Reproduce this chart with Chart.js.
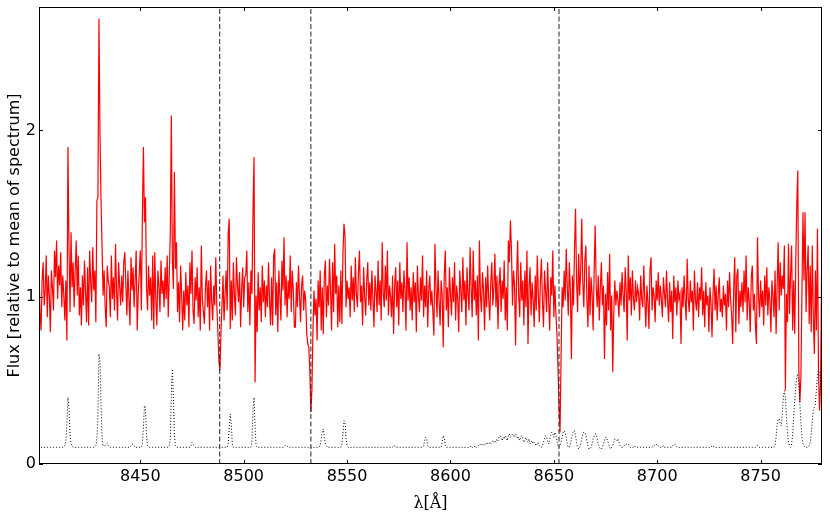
<!DOCTYPE html>
<html>
<head>
<meta charset="utf-8">
<script src="https://cdn.jsdelivr.net/npm/chart.js@4.4.1/dist/chart.umd.min.js"></script>
<style>
  html, body { margin: 0; padding: 0; background: #fff; }
  canvas { display: block; }
</style>
</head>
<body>
<canvas id="spec" width="830" height="519"></canvas>
<script>
// wavelength grid of the spectrum: 8401 A, every 0.5 A
const waveStart = 8401;
const waveStep = 0.5;

// object spectrum, relative to its mean (one row = 10 A)
const flux = [
  1.16, 0.91, 0.80, 1.10, 1.21, 0.95, 1.04, 1.25, 0.88, 1.13, 1.01, 0.79, 1.16, 1.06, 0.92, 1.28, 1.12, 1.34, 0.99, 1.19, // 8401
  1.07, 1.27, 0.94, 1.13, 1.01, 0.86, 1.10, 0.74, 1.90, 1.31, 0.91, 1.39, 1.06, 1.21, 0.94, 1.16, 1.34, 1.01, 1.25, 0.89,
  1.06, 0.83, 1.13, 0.95, 1.22, 1.03, 0.85, 1.18, 0.83, 1.28, 1.09, 0.97, 1.30, 1.04, 1.16, 0.85, 1.58, 1.60, 2.67, 1.97,
  1.58, 1.30, 1.01, 1.16, 0.94, 0.82, 1.19, 1.10, 1.06, 0.88, 1.25, 0.99, 1.12, 0.92, 1.32, 1.04, 0.86, 1.21, 1.07, 0.95,
  1.13, 0.97, 1.21, 1.27, 1.07, 0.89, 1.16, 0.99, 0.83, 1.24, 1.04, 1.18, 0.94, 1.10, 1.28, 0.80, 1.02, 1.15, 1.28, 0.92,
  1.48, 1.90, 1.45, 1.60, 1.06, 0.92, 1.19, 1.01, 1.12, 0.86, 1.25, 0.81, 1.27, 0.98, 0.83, 1.16, 1.07, 0.91, 1.22, 1.02, // 8451
  1.10, 0.94, 1.18, 0.99, 1.25, 0.88, 1.13, 1.38, 2.09, 1.22, 1.05, 1.75, 1.17, 1.33, 0.91, 1.09, 0.85, 1.19, 1.01, 0.80,
  1.04, 0.86, 1.15, 0.95, 1.07, 0.82, 1.21, 1.02, 1.28, 0.92, 0.84, 1.12, 0.98, 1.18, 0.88, 1.06, 0.80, 1.31, 0.99, 0.91,
  0.84, 1.06, 1.16, 0.94, 1.10, 0.80, 1.19, 0.98, 0.86, 1.07, 0.95, 1.24, 0.95, 0.80, 0.62, 0.56, 0.78, 0.95, 1.13, 0.86,
  1.02, 1.16, 0.92, 1.38, 1.47, 0.81, 1.10, 0.86, 1.21, 1.01, 0.89, 1.24, 1.07, 0.97, 1.15, 0.82, 1.04, 1.18, 0.94, 1.12,
  1.13, 1.28, 0.91, 1.09, 0.83, 1.16, 1.02, 1.52, 1.84, 0.49, 1.01, 0.79, 1.15, 0.92, 1.06, 0.85, 1.19, 0.97, 1.10, 0.88, // 8501
  1.07, 0.94, 1.21, 0.98, 0.83, 1.12, 0.83, 1.25, 1.29, 0.89, 1.09, 0.79, 1.16, 1.01, 0.86, 1.22, 1.04, 1.36, 0.95, 1.13,
  0.88, 1.10, 0.99, 1.25, 0.91, 1.16, 1.04, 0.82, 0.82, 1.09, 0.94, 1.19, 1.01, 0.85, 1.07, 1.13, 0.92, 1.04, 0.98, 0.78,
  0.72, 0.70, 0.55, 0.31, 0.45, 0.80, 1.04, 0.89, 0.99, 0.74, 1.10, 0.94, 1.16, 0.80, 1.06, 0.78, 1.13, 1.22, 0.88, 1.07,
  0.95, 1.23, 1.04, 0.80, 1.21, 0.91, 1.32, 1.02, 1.13, 0.82, 1.07, 0.85, 1.16, 0.84, 1.26, 1.44, 1.37, 0.94, 1.10, 0.99,
  1.06, 0.88, 1.19, 0.98, 1.12, 0.91, 1.24, 1.02, 0.94, 1.15, 1.28, 0.97, 1.07, 0.83, 1.18, 1.01, 0.89, 1.10, 1.21, 0.95, // 8551
  1.09, 0.92, 1.16, 0.99, 0.82, 1.13, 1.04, 0.91, 1.22, 0.95, 1.10, 0.86, 1.33, 1.02, 0.94, 1.19, 0.98, 1.28, 0.89, 1.07,
  1.01, 0.88, 1.13, 0.78, 1.06, 1.18, 0.94, 1.10, 0.83, 1.21, 0.99, 1.09, 0.91, 1.16, 1.04, 0.80, 1.33, 0.98, 1.12, 0.92,
  1.06, 0.86, 1.15, 0.97, 1.09, 0.79, 1.19, 1.01, 0.91, 1.12, 0.98, 1.25, 0.88, 1.07, 0.94, 1.16, 0.82, 1.04, 1.13, 0.95,
  1.04, 0.91, 0.77, 1.32, 1.06, 0.88, 1.16, 0.98, 0.83, 1.10, 1.01, 0.70, 1.13, 1.28, 0.92, 1.06, 0.82, 1.18, 1.02, 0.89,
  1.12, 0.97, 1.21, 0.86, 1.07, 0.99, 0.79, 1.16, 1.04, 0.91, 1.24, 0.98, 1.10, 0.83, 1.18, 1.02, 0.92, 1.30, 1.06, 0.88, // 8601
  1.28, 0.98, 1.10, 0.89, 1.13, 0.74, 1.34, 1.01, 0.91, 1.15, 1.04, 0.80, 1.12, 0.94, 1.19, 0.99, 0.86, 1.09, 1.21, 0.95,
  1.06, 1.26, 0.94, 1.13, 0.81, 1.07, 1.18, 0.91, 1.10, 0.99, 1.22, 0.86, 1.06, 0.80, 1.34, 1.21, 1.46, 1.29, 0.95, 1.16,
  1.07, 0.71, 1.13, 1.34, 1.01, 0.88, 1.21, 0.98, 1.10, 0.83, 1.16, 0.94, 1.28, 0.72, 1.06, 1.18, 0.89, 1.09, 0.99, 0.82,
  1.13, 0.92, 1.25, 1.02, 0.85, 1.10, 1.23, 0.97, 0.82, 1.16, 1.04, 0.91, 1.21, 0.98, 0.80, 1.12, 1.01, 1.28, 0.88, 1.07,
  0.90, 0.78, 0.58, 0.35, 0.19, 0.64, 1.06, 0.94, 1.16, 0.98, 1.29, 1.06, 0.89, 1.21, 1.04, 0.63, 1.13, 0.95, 1.28, 1.53, // 8651
  1.10, 0.91, 1.26, 1.01, 1.16, 1.47, 1.09, 0.94, 1.22, 1.31, 0.98, 0.82, 1.19, 0.89, 1.12, 1.02, 0.80, 1.16, 1.43, 1.06,
  0.94, 1.13, 0.86, 1.06, 1.21, 0.95, 1.07, 0.63, 1.02, 0.83, 1.15, 0.92, 1.26, 0.80, 1.01, 0.55, 0.91, 1.10, 0.95, 1.04,
  0.98, 0.88, 1.09, 0.95, 1.15, 1.01, 0.91, 1.18, 1.04, 0.74, 1.25, 0.98, 1.12, 0.89, 1.16, 0.99, 0.92, 1.10, 0.97, 1.06,
  1.02, 0.86, 1.13, 0.99, 0.94, 1.19, 0.98, 0.82, 1.07, 0.97, 0.81, 1.16, 1.24, 0.92, 1.06, 1.01, 0.85, 1.10, 0.98, 1.15,
  0.95, 1.07, 0.99, 0.88, 1.12, 1.02, 0.94, 1.16, 0.98, 0.85, 1.09, 0.91, 1.04, 0.75, 1.13, 0.97, 1.06, 0.89, 1.10, 0.99, // 8701
  1.02, 0.72, 1.06, 0.94, 1.13, 0.98, 0.86, 1.23, 0.99, 0.91, 1.10, 0.97, 1.04, 0.80, 1.16, 0.98, 0.92, 1.09, 0.88, 1.06,
  0.98, 1.18, 0.89, 1.04, 0.82, 1.09, 0.95, 1.01, 0.79, 1.06, 0.97, 0.76, 1.02, 1.17, 0.92, 1.07, 0.86, 1.01, 1.12, 0.91,
  0.99, 0.88, 1.07, 0.95, 1.02, 0.80, 1.10, 0.94, 1.15, 0.98, 0.89, 0.72, 1.06, 1.24, 0.79, 1.13, 1.17, 0.84, 1.04, 0.94,
  1.09, 0.91, 1.16, 0.97, 1.25, 0.86, 1.06, 0.98, 0.79, 1.12, 1.19, 0.92, 1.02, 0.83, 0.72, 1.36, 1.01, 0.88, 1.10, 0.94,
  1.04, 0.83, 1.13, 0.95, 1.18, 0.89, 1.06, 0.98, 0.79, 1.10, 1.01, 0.88, 1.16, 0.78, 1.07, 1.33, 0.92, 1.21, 1.01, 1.13, // 8751
  1.05, 1.31, 0.44, 1.02, 0.85, 1.32, 0.90, 1.14, 1.31, 0.80, 1.10, 0.78, 1.20, 1.55, 1.76, 0.56, 0.37, 0.52, 1.02, 1.51,
  1.10, 1.51, 0.91, 1.16, 1.31, 0.84, 1.19, 0.79, 1.31, 0.88, 0.66, 1.16, 0.80, 1.41, 0.56, 0.32, 0.48, 1.15, 1.05, 1.00
];

// sky spectrum on the same grid (dotted)
const sky = [
  0.11, 0.11, 0.10, 0.10, 0.10, 0.10, 0.10, 0.10, 0.10, 0.10, 0.10, 0.10, 0.10, 0.10, 0.10, 0.10, 0.10, 0.10, 0.10, 0.10, // 8401
  0.10, 0.10, 0.10, 0.10, 0.10, 0.11, 0.14, 0.24, 0.40, 0.33, 0.18, 0.12, 0.11, 0.10, 0.10, 0.10, 0.10, 0.10, 0.10, 0.10,
  0.10, 0.10, 0.10, 0.10, 0.10, 0.10, 0.10, 0.10, 0.10, 0.10, 0.10, 0.10, 0.10, 0.10, 0.10, 0.11, 0.15, 0.30, 0.66, 0.62,
  0.36, 0.16, 0.11, 0.11, 0.11, 0.12, 0.125, 0.11, 0.10, 0.10, 0.10, 0.10, 0.10, 0.10, 0.10, 0.10, 0.10, 0.10, 0.10, 0.10,
  0.10, 0.10, 0.10, 0.10, 0.10, 0.10, 0.10, 0.10, 0.10, 0.11, 0.12, 0.12, 0.11, 0.10, 0.10, 0.10, 0.10, 0.10, 0.10, 0.10,
  0.12, 0.22, 0.35, 0.34, 0.18, 0.11, 0.10, 0.10, 0.10, 0.10, 0.10, 0.10, 0.10, 0.10, 0.10, 0.10, 0.10, 0.10, 0.10, 0.10, // 8451
  0.10, 0.10, 0.10, 0.10, 0.10, 0.10, 0.11, 0.15, 0.42, 0.57, 0.40, 0.16, 0.11, 0.10, 0.10, 0.10, 0.10, 0.10, 0.10, 0.10,
  0.10, 0.10, 0.10, 0.10, 0.10, 0.10, 0.10, 0.11, 0.13, 0.12, 0.11, 0.10, 0.10, 0.10, 0.10, 0.10, 0.10, 0.10, 0.10, 0.10,
  0.10, 0.10, 0.10, 0.10, 0.10, 0.10, 0.10, 0.10, 0.10, 0.10, 0.10, 0.10, 0.10, 0.10, 0.10, 0.10, 0.10, 0.10, 0.10, 0.10,
  0.10, 0.10, 0.10, 0.12, 0.22, 0.30, 0.24, 0.12, 0.10, 0.10, 0.10, 0.10, 0.10, 0.10, 0.10, 0.10, 0.10, 0.10, 0.10, 0.10,
  0.10, 0.10, 0.10, 0.10, 0.10, 0.10, 0.14, 0.33, 0.40, 0.22, 0.11, 0.10, 0.10, 0.10, 0.10, 0.10, 0.10, 0.10, 0.10, 0.10, // 8501
  0.10, 0.10, 0.10, 0.10, 0.10, 0.10, 0.10, 0.10, 0.10, 0.10, 0.10, 0.10, 0.10, 0.10, 0.10, 0.10, 0.10, 0.10, 0.11, 0.11,
  0.11, 0.10, 0.10, 0.10, 0.10, 0.10, 0.10, 0.10, 0.10, 0.10, 0.10, 0.10, 0.10, 0.10, 0.10, 0.10, 0.10, 0.10, 0.10, 0.10,
  0.10, 0.10, 0.10, 0.10, 0.10, 0.10, 0.10, 0.10, 0.10, 0.10, 0.10, 0.10, 0.11, 0.15, 0.20, 0.21, 0.16, 0.12, 0.11, 0.10,
  0.10, 0.10, 0.10, 0.10, 0.10, 0.10, 0.10, 0.10, 0.10, 0.10, 0.10, 0.10, 0.10, 0.12, 0.18, 0.26, 0.25, 0.15, 0.11, 0.10,
  0.10, 0.10, 0.10, 0.10, 0.10, 0.10, 0.10, 0.10, 0.10, 0.10, 0.10, 0.10, 0.10, 0.10, 0.10, 0.10, 0.10, 0.10, 0.10, 0.10, // 8551
  0.10, 0.10, 0.10, 0.10, 0.10, 0.10, 0.10, 0.10, 0.10, 0.10, 0.10, 0.10, 0.10, 0.10, 0.10, 0.10, 0.10, 0.10, 0.10, 0.10,
  0.10, 0.10, 0.10, 0.11, 0.11, 0.10, 0.10, 0.10, 0.10, 0.10, 0.10, 0.10, 0.10, 0.10, 0.10, 0.10, 0.10, 0.10, 0.10, 0.10,
  0.10, 0.10, 0.10, 0.10, 0.10, 0.10, 0.10, 0.10, 0.10, 0.10, 0.10, 0.10, 0.11, 0.14, 0.16, 0.15, 0.11, 0.10, 0.10, 0.10,
  0.10, 0.10, 0.10, 0.10, 0.10, 0.10, 0.10, 0.10, 0.10, 0.10, 0.13, 0.17, 0.16, 0.11, 0.10, 0.10, 0.10, 0.10, 0.10, 0.10,
  0.10, 0.10, 0.10, 0.10, 0.10, 0.10, 0.10, 0.10, 0.10, 0.10, 0.10, 0.10, 0.10, 0.10, 0.10, 0.10, 0.10, 0.10, 0.11, 0.10, // 8601
  0.10, 0.10, 0.11, 0.10, 0.11, 0.11, 0.11, 0.12, 0.11, 0.12, 0.12, 0.11, 0.12, 0.13, 0.12, 0.12, 0.13, 0.12, 0.13, 0.14,
  0.13, 0.14, 0.13, 0.15, 0.14, 0.16, 0.17, 0.15, 0.14, 0.16, 0.15, 0.17, 0.16, 0.14, 0.17, 0.18, 0.16, 0.17, 0.18, 0.17,
  0.16, 0.18, 0.17, 0.15, 0.16, 0.14, 0.16, 0.17, 0.15, 0.13, 0.14, 0.16, 0.14, 0.13, 0.15, 0.12, 0.13, 0.14, 0.12, 0.13,
  0.12, 0.11, 0.12, 0.13, 0.11, 0.10, 0.10, 0.11, 0.13, 0.15, 0.17, 0.16, 0.14, 0.12, 0.14, 0.17, 0.19, 0.18, 0.16, 0.19,
  0.17, 0.14, 0.11, 0.10, 0.11, 0.13, 0.16, 0.19, 0.20, 0.19, 0.16, 0.12, 0.10, 0.10, 0.12, 0.15, 0.18, 0.20, 0.20, 0.17, // 8651
  0.13, 0.10, 0.09, 0.10, 0.12, 0.15, 0.18, 0.19, 0.19, 0.17, 0.14, 0.11, 0.09, 0.09, 0.10, 0.12, 0.15, 0.17, 0.18, 0.18,
  0.15, 0.12, 0.10, 0.09, 0.09, 0.10, 0.12, 0.14, 0.16, 0.16, 0.14, 0.12, 0.10, 0.09, 0.10, 0.11, 0.13, 0.15, 0.15, 0.14,
  0.15, 0.13, 0.11, 0.10, 0.10, 0.10, 0.11, 0.11, 0.12, 0.12, 0.12, 0.11, 0.10, 0.10, 0.10, 0.10, 0.11, 0.10, 0.10, 0.10,
  0.10, 0.10, 0.10, 0.10, 0.10, 0.10, 0.10, 0.10, 0.10, 0.10, 0.10, 0.10, 0.10, 0.10, 0.11, 0.11, 0.12, 0.12, 0.11, 0.11,
  0.10, 0.10, 0.10, 0.10, 0.11, 0.10, 0.10, 0.10, 0.10, 0.10, 0.10, 0.10, 0.10, 0.11, 0.12, 0.12, 0.11, 0.10, 0.10, 0.10, // 8701
  0.10, 0.10, 0.10, 0.10, 0.10, 0.10, 0.10, 0.10, 0.10, 0.10, 0.10, 0.10, 0.10, 0.10, 0.10, 0.10, 0.10, 0.10, 0.10, 0.10,
  0.10, 0.10, 0.10, 0.10, 0.10, 0.10, 0.10, 0.10, 0.10, 0.10, 0.10, 0.11, 0.11, 0.10, 0.10, 0.10, 0.10, 0.10, 0.10, 0.10,
  0.10, 0.10, 0.10, 0.10, 0.10, 0.10, 0.10, 0.10, 0.10, 0.10, 0.10, 0.10, 0.10, 0.10, 0.10, 0.10, 0.10, 0.10, 0.10, 0.10,
  0.10, 0.10, 0.10, 0.10, 0.10, 0.10, 0.10, 0.10, 0.10, 0.10, 0.10, 0.10, 0.10, 0.10, 0.11, 0.11, 0.10, 0.10, 0.10, 0.10,
  0.10, 0.10, 0.10, 0.10, 0.10, 0.10, 0.10, 0.10, 0.10, 0.10, 0.10, 0.10, 0.11, 0.16, 0.24, 0.27, 0.27, 0.24, 0.23, 0.30, // 8751
  0.40, 0.44, 0.40, 0.28, 0.19, 0.13, 0.11, 0.10, 0.12, 0.18, 0.28, 0.38, 0.46, 0.52, 0.54, 0.48, 0.36, 0.25, 0.16, 0.12,
  0.11, 0.10, 0.10, 0.10, 0.10, 0.11, 0.13, 0.18, 0.26, 0.32, 0.34, 0.36, 0.45, 0.53, 0.56, 0.55, 0.50, 0.45, 0.40, 0.35
];

// Ca II triplet positions (dashed lines)
const caLines = [8488.4, 8532.5, 8652.5];

const xTicks = [8450, 8500, 8550, 8600, 8650, 8700, 8750];
const yTicks = [0, 1, 2];
const xRange = [8401, 8779.7];
const yRange = [0, 2.74];

const wave = flux.map((_, i) => waveStart + i * waveStep);
const toPoints = vals => vals.map((v, i) => ({ x: wave[i], y: v }));

// matplotlib style box with inward ticks on all four sides
const frameAndTicks = {
    id: 'frameAndTicks',
    afterDatasetsDraw(chart) {
        const { ctx, chartArea: a, scales } = chart;
        ctx.save();
        ctx.strokeStyle = '#000';
        ctx.lineWidth = 1;
        ctx.beginPath();
        xTicks.forEach(v => {
            const px = Math.round(scales.x.getPixelForValue(v)) + 0.5;
            ctx.moveTo(px, a.bottom); ctx.lineTo(px, a.bottom - 4);
            ctx.moveTo(px, a.top); ctx.lineTo(px, a.top + 4);
        });
        yTicks.forEach(v => {
            const py = Math.round(scales.y.getPixelForValue(v)) + 0.5;
            ctx.moveTo(a.left, py); ctx.lineTo(a.left + 4, py);
            ctx.moveTo(a.right, py); ctx.lineTo(a.right - 4, py);
        });
        ctx.stroke();
        ctx.strokeRect(a.left + 0.5, a.top + 0.5, a.width - 1, a.height - 1);
        ctx.restore();
    }
};

const vlineSets = caLines.map(l => ({
    data: [{ x: l, y: yRange[0] }, { x: l, y: yRange[1] }],
    borderColor: '#222',
    borderWidth: 1,
    borderDash: [5, 2.5],
    pointRadius: 0
}));

new Chart(document.getElementById('spec'), {
    type: 'line',
    data: {
        datasets: [
            ...vlineSets,
            {
                data: toPoints(sky),
                borderColor: '#000',
                borderWidth: 1,
                borderDash: [1, 2],
                pointRadius: 0
            },
            {
                data: toPoints(flux),
                borderColor: '#ff0000',
                borderWidth: 1.2,
                pointRadius: 0
            }
        ]
    },
    options: {
        responsive: false,
        animation: false,
        devicePixelRatio: 1,
        layout: { padding: { left: 0, right: 8, top: 7, bottom: 0 } },
        plugins: { legend: { display: false }, tooltip: { enabled: false } },
        scales: {
            x: {
                type: 'linear',
                min: xRange[0],
                max: xRange[1],
                afterBuildTicks: s => { s.ticks = xTicks.map(v => ({ value: v })); },
                afterFit: s => { s.height = 55; s.paddingLeft = 0; s.paddingRight = 0; },
                grid: { display: false, drawTicks: false },
                border: { display: false },
                ticks: {
                    font: { family: 'DejaVu Sans', size: 16 },
                    color: '#000',
                    padding: 3,
                    maxRotation: 0,
                    autoSkip: false,
                    callback: v => String(v)
                },
                title: {
                    display: true,
                    text: 'λ[Å]',
                    font: { family: 'DejaVu Serif', size: 16 },
                    color: '#000',
                    padding: { top: 0, bottom: 6 }
                }
            },
            y: {
                min: yRange[0],
                max: yRange[1],
                afterBuildTicks: s => { s.ticks = yTicks.map(v => ({ value: v })); },
                afterFit: s => { s.width = 39; s.paddingTop = 0; s.paddingBottom = 0; },
                grid: { display: false, drawTicks: false },
                border: { display: false },
                ticks: {
                    font: { family: 'DejaVu Sans', size: 16 },
                    color: '#000',
                    padding: 3,
                    autoSkip: false,
                    callback: v => String(v)
                },
                title: {
                    display: true,
                    text: 'Flux [relative to mean of spectrum]',
                    font: { family: 'DejaVu Sans', size: 16 },
                    color: '#000',
                    padding: { top: 5, bottom: 0 }
                }
            }
        }
    },
    plugins: [frameAndTicks]
});
</script>
</body>
</html>
